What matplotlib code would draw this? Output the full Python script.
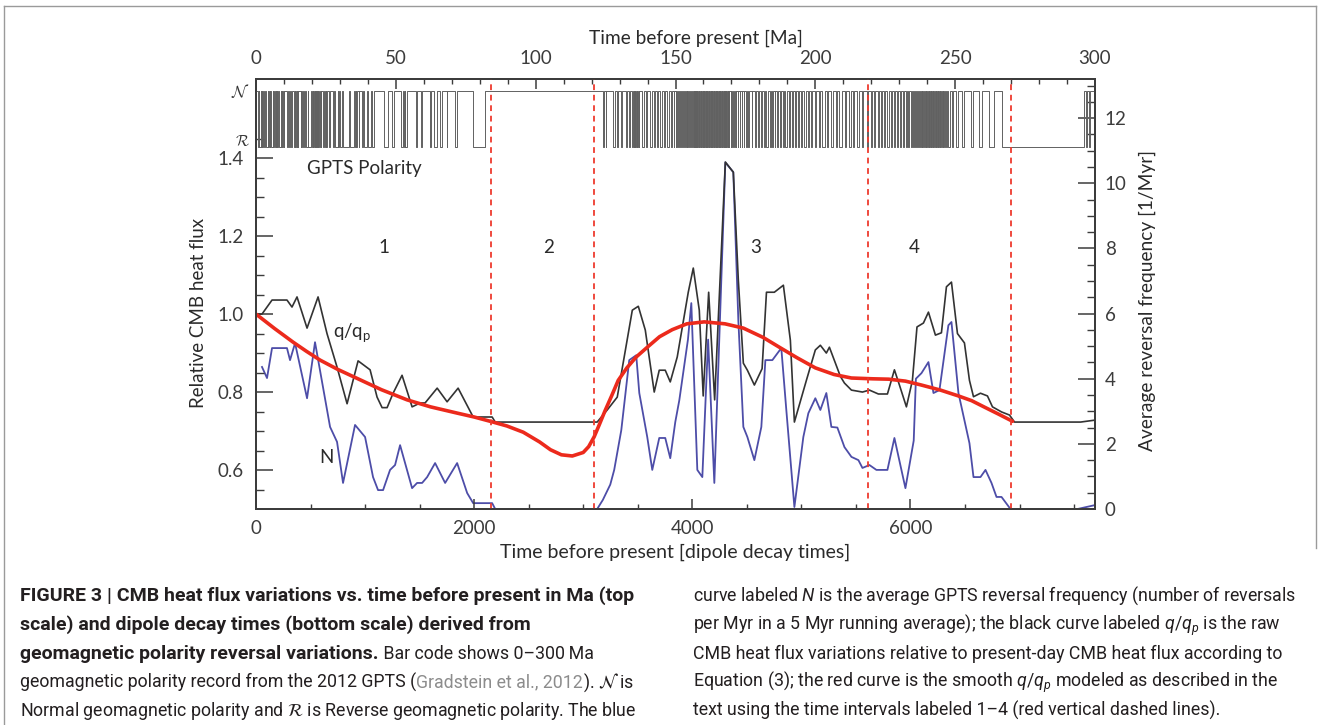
import matplotlib
matplotlib.use('Agg')
import matplotlib.pyplot as plt
from matplotlib import font_manager
from matplotlib.lines import Line2D
from matplotlib.ticker import MultipleLocator
import numpy as np

# ---- data ----
# time in dipole decay times (bottom scale); 1 dipole decay time = 0.039 Myr
qqp_t = [0, 55, 147, 284, 330, 376, 468, 569, 651, 743, 835, 936, 1046, 1110, 1156, 1202,
         1257, 1339, 1431, 1505, 1550, 1661, 1752, 1853, 1991, 2165, 2193, 3128, 3220, 3312,
         3450, 3505, 3569, 3651, 3697, 3752, 3798, 3862, 3963, 4009, 4064, 4100, 4150, 4205,
         4303, 4376, 4422, 4468, 4505, 4569, 4640, 4680, 4752, 4835, 4899, 4936, 5046, 5128,
         5174, 5229, 5257, 5358, 5395, 5459, 5560, 5624, 5706, 5789, 5853, 5899, 5963, 6018,
         6060, 6119, 6165, 6229, 6284, 6330, 6376, 6431, 6495, 6541, 6578, 6642, 6706, 6752,
         6835, 6908, 6954, 7560, 7692]
qqp = [1.0, 1.0, 1.036, 1.036, 1.018, 1.044, 0.964, 1.044, 0.95, 0.864, 0.77, 0.88, 0.857, 0.787,
       0.76, 0.76, 0.797, 0.843, 0.762, 0.772, 0.772, 0.81, 0.775, 0.81, 0.736, 0.736, 0.723,
       0.723, 0.754, 0.787, 1.01, 1.02, 0.959, 0.80, 0.856, 0.856, 0.826, 0.89, 1.056, 1.118,
       1.01, 0.79, 1.056, 0.78, 1.39, 1.364, 1.087, 0.874, 0.856, 0.818, 0.86, 1.056, 1.056,
       1.074, 0.933, 0.723, 0.83, 0.908, 0.92, 0.90, 0.915, 0.84, 0.823, 0.805, 0.80, 0.805,
       0.795, 0.795, 0.857, 0.818, 0.762, 0.83, 0.967, 0.977, 1.005, 0.946, 0.952, 1.07, 1.082,
       0.95, 0.926, 0.83, 0.788, 0.797, 0.79, 0.762, 0.749, 0.741, 0.723, 0.723, 0.728]

rev_t = [55, 101, 147, 284, 312, 358, 468, 541, 679, 743, 798, 908, 1000, 1073, 1119, 1165,
         1229, 1275, 1321, 1431, 1477, 1523, 1569, 1642, 1734, 1844, 1936, 1991, 2165, 2193,
         3128, 3180, 3248, 3284, 3349, 3422, 3486, 3514, 3587, 3633, 3697, 3752, 3798, 3844,
         3881, 3960, 3991, 4046, 4092, 4145, 4202, 4303, 4376, 4422, 4468, 4505, 4569, 4633,
         4670, 4734, 4816, 4862, 4936, 5018, 5064, 5128, 5174, 5229, 5275, 5330, 5395, 5459,
         5523, 5560, 5624, 5688, 5789, 5853, 5954, 6030, 6050, 6101, 6165, 6211, 6266, 6348,
         6376, 6440, 6541, 6578, 6642, 6688, 6743, 6789, 6835, 6917, 7532, 7692]
rev_freq = [4.36, 4.02, 4.94, 4.94, 4.57, 5.09, 3.40, 5.12, 2.52, 2.06, 0.80, 2.58, 2.21, 0.98,
            0.58, 0.58, 1.20, 1.35, 1.96, 0.64, 0.80, 0.80, 0.98, 1.41, 0.80, 1.41, 0.49, 0.18,
            0.18, 0.0, 0.0, 0.28, 0.75, 1.2, 2.42, 4.57, 4.72, 3.56, 2.21, 1.2, 2.18, 2.18, 1.56,
            2.67, 3.34, 5.2, 6.32, 1.2, 0.98, 5.2, 0.8, 10.64, 10.34, 5.8, 2.52, 2.21, 1.5, 2.52,
            4.57, 4.57, 4.94, 3.04, 0.06, 2.21, 2.94, 3.40, 3.04, 3.56, 2.52, 2.50, 1.90, 1.60,
            1.50, 1.26, 1.35, 1.20, 1.20, 2.18, 0.64, 2.1, 4.0, 4.17, 4.51, 3.56, 3.65, 5.64,
            5.74, 3.56, 2.02, 0.98, 0.98, 1.20, 0.80, 0.37, 0.37, 0.0, 0.0, 0.12]

smooth_t = [0, 170, 340, 460, 587, 750, 927, 1150, 1385, 1600, 1844, 2000, 2147, 2300, 2450,
            2600, 2700, 2800, 2900, 3000, 3050, 3100, 3150, 3200, 3260, 3321, 3400, 3486, 3600,
            3700, 3816, 3950, 4110, 4300, 4468, 4650, 4798, 4960, 5128, 5300, 5459, 5651, 5800,
            5954, 6100, 6275, 6440, 6560, 6688, 6810, 6936]
smooth_q = [1.0, 0.963, 0.928, 0.905, 0.882, 0.858, 0.835, 0.806, 0.78, 0.762, 0.746, 0.736,
            0.725, 0.713, 0.697, 0.672, 0.652, 0.639, 0.636, 0.645, 0.66, 0.685, 0.718, 0.752,
            0.79, 0.83, 0.862, 0.89, 0.918, 0.942, 0.96, 0.975, 0.98, 0.975, 0.964, 0.94, 0.915,
            0.888, 0.862, 0.845, 0.836, 0.834, 0.833, 0.828, 0.818, 0.805, 0.79, 0.778, 0.76,
            0.743, 0.725]

interval_bounds_ma = [84, 121, 219, 270]
interval_names = ['1', '2', '3', '4']
interval_name_t = [1174, 2679, 4578, 6037]

# reversed-polarity chrons of the GPTS bar code, in Ma
reversed_chrons = [
    (0.781, 0.988), (1.072, 1.173), (1.185, 1.778), (1.945, 2.128), (2.148, 2.581), (3.032, 3.116),
    (3.207, 3.330), (3.596, 4.187), (4.300, 4.493), (4.631, 4.799), (4.896, 4.997), (5.235, 6.033),
    (6.252, 6.436), (6.733, 7.140), (7.212, 7.251), (7.285, 7.454), (7.489, 7.528), (7.642, 7.695),
    (8.108, 8.254), (8.300, 8.771), (9.105, 9.311), (9.426, 9.647), (9.721, 9.786), (9.937, 9.984),
    (11.056, 11.146), (11.188, 11.592), (11.657, 12.049), (12.174, 12.272), (12.474, 12.735),
    (13.739, 13.833), (14.070, 14.163), (14.609, 14.775), (14.870, 15.160), (15.974, 16.268),
    (16.303, 16.472), (16.543, 16.721), (17.235, 17.533), (17.717, 17.740), (18.056, 18.524),
    (18.748, 19.722), (20.040, 20.213), (20.439, 20.709), (21.083, 21.159), (21.403, 21.483),
    (21.659, 21.688), (21.767, 21.936), (21.992, 22.268), (22.564, 22.754), (22.902, 23.030),
    (23.233, 23.295), (23.962, 24.000), (24.109, 24.474), (24.761, 24.984), (25.099, 25.264),
    (25.987, 26.420), (27.439, 27.859), (28.087, 28.141), (28.278, 29.183), (29.477, 29.527),
    (29.970, 30.591), (31.034, 33.157), (33.705, 34.999), (35.294, 35.706), (35.892, 36.051),
    (36.700, 36.969), (37.753, 38.332), (38.615, 39.627), (40.145, 41.154), (41.390, 42.301),
    (45.724, 47.349), (48.566, 49.344), (51.833, 52.620), (53.074, 53.199), (53.416, 53.983),
    (57.101, 57.656), (58.959, 59.237), (62.221, 62.517), (63.494, 64.667), (65.688, 66.398),
    (68.196, 68.369), (71.2, 72.0), (77.7, 81.8),
    (124.0, 124.6), (125.0, 125.3), (127.5, 128.2), (129.0, 129.4), (130.5, 131.0), (132.2, 132.5),
    (133.3, 133.8), (134.6, 134.8), (135.0, 135.2), (135.4, 135.6), (135.8, 136.1), (136.3, 136.5),
    (136.8, 137.0), (138.2, 138.9), (139.6, 139.9), (140.8, 141.5), (142.3, 142.6), (143.4, 143.7),
    (144.5, 145.3), (146.0, 146.3), (147.1, 147.6), (148.5, 148.8), (149.3, 149.6), (150.0, 150.2),
    (150.6, 151.0), (151.4, 151.6), (152.0, 152.3), (152.7, 152.9), (153.3, 153.6), (154.0, 154.2),
    (154.6, 154.9), (155.3, 155.5), (155.9, 156.1), (156.5, 156.7), (157.0, 157.15), (157.3, 157.45),
    (157.6, 157.75), (157.9, 158.05), (158.2, 158.3), (158.45, 158.6), (158.75, 158.9), (159.05, 159.2),
    (159.35, 159.5), (159.65, 159.8), (159.95, 160.1), (160.25, 160.4), (160.55, 160.7), (160.85, 161.0),
    (161.15, 161.3), (161.45, 161.6), (161.75, 161.9), (162.05, 162.2), (162.35, 162.5), (162.65, 162.8),
    (162.95, 163.1), (163.25, 163.4), (163.55, 163.7), (163.85, 164.0), (164.15, 164.3), (164.45, 164.6),
    (164.75, 164.9), (165.05, 165.2), (165.35, 165.5), (165.65, 165.8), (165.95, 166.1), (166.25, 166.4),
    (166.55, 166.7), (166.85, 167.0), (167.15, 167.3), (167.45, 167.6), (167.75, 167.9), (168.1, 168.3),
    (168.6, 168.8), (169.1, 169.3), (169.7, 169.9), (170.3, 170.5), (170.9, 171.1), (171.5, 171.8),
    (172.2, 172.4), (172.9, 173.1), (173.6, 173.9), (174.4, 174.6), (175.1, 175.4), (176.0, 176.4),
    (177.2, 177.5), (178.3, 178.8), (179.5, 179.8), (180.6, 181.0), (181.6, 181.9), (182.5, 183.0),
    (183.7, 184.0), (184.5, 184.8), (185.4, 185.7), (186.3, 186.8), (187.5, 187.8), (188.4, 188.7),
    (189.3, 189.8), (190.5, 190.8), (191.5, 192.0), (192.8, 193.1), (193.9, 194.3), (195.0, 195.3),
    (196.0, 196.5), (197.3, 197.6), (198.4, 198.9), (199.8, 200.3), (201.2, 201.6), (202.5, 203.3),
    (204.3, 204.7), (205.6, 206.2), (207.3, 207.7), (208.6, 209.4), (210.5, 210.9), (212.0, 212.6),
    (213.6, 214.0), (215.0, 215.7), (216.8, 217.2), (218.3, 218.9), (219.8, 220.2), (221.0, 221.5),
    (222.3, 222.6), (223.4, 223.9), (224.7, 225.0), (225.8, 226.3), (227.0, 227.3), (228.1, 228.5),
    (229.2, 229.5), (230.3, 230.8), (231.4, 231.7), (232.4, 232.8), (233.3, 233.6), (234.1, 234.5),
    (235.0, 235.3), (235.8, 236.1), (236.5, 236.8), (237.2, 237.5), (237.8, 238.0), (238.3, 238.6),
    (238.9, 239.1), (239.4, 239.7), (240.0, 240.2), (240.5, 240.7), (241.0, 241.2), (241.5, 241.7),
    (242.0, 242.2), (242.5, 242.7), (243.0, 243.2), (243.5, 243.7), (244.0, 244.2), (244.5, 244.7),
    (245.0, 245.2), (245.5, 245.7), (246.0, 246.3), (246.7, 247.0), (247.6, 248.2), (249.0, 249.4),
    (250.3, 251.0), (252.5, 253.3), (255.5, 256.4), (258.6, 259.6), (262.0, 264.0), (266.8, 296.2),
    (296.8, 297.3), (297.8, 298.3)]

T_MAX = 7692          # dipole decay times at the right edge
MA_MAX = 300          # same edge in Ma
LEVEL_N, LEVEL_R = 1.572, 1.428

caption_left = [
    [("FIGURE 3 | CMB heat flux variations vs. time before present in Ma (top", 'b')],
    [("scale) and dipole decay times (bottom scale) derived from", 'b')],
    [("geomagnetic polarity reversal variations.", 'b'), (" Bar code shows 0\u2013300\u2009Ma", 'n')],
    [("geomagnetic polarity record from the 2012 GPTS (", 'n'), ("Gradstein et al., 2012", 'g'),
     ("). $\\mathcal{N}$ is", 'c')],
    [("Normal geomagnetic polarity and $\\mathcal{R}$ is Reverse geomagnetic polarity. The blue", 'c')],
]
caption_right = [
    [("curve labeled $N$ is the average GPTS reversal frequency (number of reversals", 'n')],
    [("per Myr in a 5 Myr running average); the black curve labeled $q/q_p$ is the raw", 'n')],
    [("CMB heat flux variations relative to present-day CMB heat flux according to", 'n')],
    [("Equation (3); the red curve is the smooth $q/q_p$ modeled as described in the", 'n')],
    [("text using the time intervals labeled 1\u20134 (red vertical dashed lines).", 'n')],
]


def has_font(name):
    try:
        font_manager.findfont(name, fallback_to_default=False)
        return True
    except ValueError:
        return False


if has_font('Liberation Sans Narrow'):
    cap_font, cap_size, cap_bold_size = 'Liberation Sans Narrow', 14, 14.5
else:
    cap_font, cap_size, cap_bold_size = 'Roboto', 12.8, 14.0

plt.rcParams['font.family'] = ['Lato', 'DejaVu Sans']
plt.rcParams['mathtext.fontset'] = 'custom'
plt.rcParams['mathtext.rm'] = cap_font
plt.rcParams['mathtext.it'] = cap_font + ':italic'

W, H = 1325, 725
fig = plt.figure(figsize=(W / 100, H / 100), dpi=100)
ax = fig.add_axes([256 / W, 1 - 509 / H, 839 / W, 430 / H])
ax2 = ax.twinx()
axt = ax.twiny()
ax2.set_zorder(1)
ax.set_zorder(2)
axt.set_zorder(3)
for a in (ax, ax2, axt):
    a.patch.set_visible(False)
    for s in a.spines.values():
        s.set_color('#3c3c3c')
        s.set_linewidth(1.2)

axis_col = '#3c3c3c'
tick_fs = 13.5

# curves
ax2.plot(rev_t, rev_freq, color='#4d4da8', lw=1.3)
ax.plot(qqp_t, qqp, color='#333333', lw=1.2)
ax.plot(smooth_t, smooth_q, color='#ec2a1c', lw=2.6, solid_capstyle='round')

# GPTS bar code, drawn in Ma on the top axis
bx, by = [0], [LEVEL_N]
for a, b in reversed_chrons:
    bx += [a, a, b, b]
    by += [LEVEL_N, LEVEL_R, LEVEL_R, LEVEL_N]
bx.append(MA_MAX)
by.append(LEVEL_N)
axt.plot(bx, by, color='0.38', lw=0.7)

for ma in interval_bounds_ma:
    axt.axvline(ma, color='#ee3a2e', lw=1.3, ls=(0, (3.2, 2.6)))

# limits and ticks
ax.set_xlim(0, T_MAX)
ax.set_ylim(0.5, 1.603)
ax2.set_ylim(0, 13.2)
axt.set_xlim(0, MA_MAX)

ax.set_xticks([0, 2000, 4000, 6000])
ax.xaxis.set_minor_locator(MultipleLocator(500))
ax.set_yticks([0.6, 0.8, 1.0, 1.2, 1.4])
ax.set_yticks(np.arange(0.55, 1.46, 0.05), minor=True)
ax2.set_yticks([0, 2, 4, 6, 8, 10, 12])
ax2.set_yticks(np.arange(0.5, 13.1, 0.5), minor=True)
axt.xaxis.set_major_locator(MultipleLocator(50))
axt.xaxis.set_minor_locator(MultipleLocator(10))

ax.tick_params(axis='x', which='major', direction='in', length=7, width=1.1, pad=8,
               labelsize=tick_fs, colors=axis_col)
ax.tick_params(axis='x', which='minor', direction='in', length=3.5, width=1.0, colors=axis_col)
ax.tick_params(axis='y', which='major', direction='in', length=12, width=1.1, pad=9,
               labelsize=tick_fs, colors=axis_col)
ax.tick_params(axis='y', which='minor', direction='in', length=6, width=1.0, colors=axis_col)
ax2.tick_params(axis='y', which='major', direction='in', length=12, width=1.1, pad=7,
                labelsize=tick_fs, colors=axis_col)
ax2.tick_params(axis='y', which='minor', direction='in', length=6, width=1.0, colors=axis_col)
axt.tick_params(axis='x', which='major', direction='in', length=7, width=1.1, pad=9,
                labelsize=tick_fs, colors=axis_col)
axt.tick_params(axis='x', which='minor', direction='in', length=3.5, width=1.0, colors=axis_col)

lab_col = '#2a2a2a'
ax.set_xlabel('Time before present [dipole decay times]', fontsize=14, color=lab_col)
ax.xaxis.set_label_coords(0.5, -0.081)
axt.set_xlabel('Time before present [Ma]', fontsize=13.8, color=lab_col)
axt.xaxis.set_label_coords(0.524, 1.081)
ax.set_ylabel('Relative CMB heat flux', fontsize=13.5, color=lab_col)
ax.yaxis.set_label_coords(-0.058, 0.456)
ax2.set_ylabel('Average reversal frequency [1/Myr]', fontsize=13.8, color=lab_col, rotation=90)
ax2.yaxis.set_label_coords(1.052, 0.484)

# annotations inside the plot
txt = dict(color=lab_col, fontsize=13.5)
ax.text(468, 1.374, 'GPTS Polarity', ha='left', va='center', **txt)
for name, t in zip(interval_names, interval_name_t):
    ax.text(t, 1.172, name, ha='center', va='center', **txt)
ax.text(880, 0.952, 'q/q$_\\mathregular{p}$', ha='center', va='center', **txt)
ax.text(642, 0.633, 'N', ha='center', va='center', **txt)
ax.text(-60, LEVEL_N, '$\\mathcal{N}$', ha='right', va='center', fontsize=12,
        math_fontfamily='cm', color='#333333')
ax.text(-60, 1.442, '$\\mathcal{R}$', ha='right', va='center', fontsize=11,
        math_fontfamily='cm', color='#333333')

# frame around the figure panel
frame = dict(color='#9a9a9a', lw=1.0, transform=fig.transFigure)
fig.add_artist(Line2D([4 / W, 4 / W], [0, 1 - 6 / H], **frame))
fig.add_artist(Line2D([4 / W, 1316 / W], [1 - 6 / H, 1 - 6 / H], **frame))
fig.add_artist(Line2D([1316 / W, 1316 / W], [1 - 6 / H, 1 - 548 / H], **frame))

# caption
styles = {
    'b': dict(fontweight='bold', color='#231f20', fontsize=cap_bold_size),
    'n': dict(color='#231f20', fontsize=cap_size),
    'g': dict(color='#8c8c8c', fontsize=cap_size),
    'c': dict(color='#231f20', math_fontfamily='stix', fontsize=cap_size),
}
renderer = fig.canvas.get_renderer()


def put_line(x_px, y_px, runs):
    x = x_px
    for s, key in runs:
        t = fig.text(x / W, 1 - y_px / H, s, ha='left', va='baseline',
                     family=cap_font, **styles[key])
        x = t.get_window_extent(renderer).x1


for i, runs in enumerate(caption_left):
    put_line(20, 601 + 28.8 * i, runs)
for i, runs in enumerate(caption_right):
    put_line(693, 601 + 28.8 * i, runs)

fig.savefig('out.png', dpi=100)
